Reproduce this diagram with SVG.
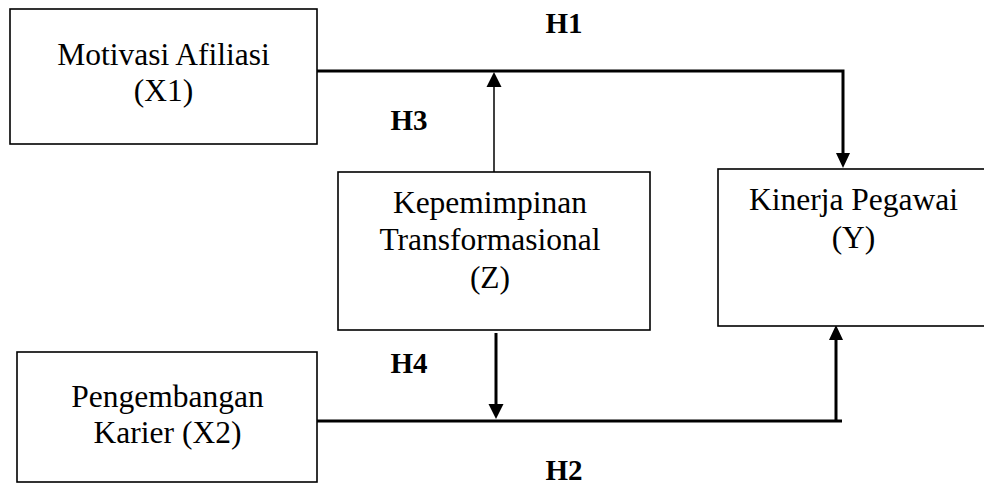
<svg xmlns="http://www.w3.org/2000/svg" width="984" height="486" viewBox="0 0 984 486">
  <style>
    .box { fill: #ffffff; stroke: #000000; stroke-width: 1.6; }
    .lbl { font-family: "Liberation Serif", "Times New Roman", serif; font-size: 31.5px; fill: #000000; text-anchor: middle; }
    .hyp { font-family: "Liberation Serif", "Times New Roman", serif; font-size: 29px; font-weight: bold; fill: #000000; text-anchor: middle; }
    .wire { fill: none; stroke: #000000; stroke-width: 3; }
    .thin { fill: none; stroke: #000000; stroke-width: 1.5; }
    .head { fill: #000000; stroke: none; }
  </style>

  <rect width="984" height="486" fill="#ffffff"/>

  <!-- connectors -->
  <g id="connectors">
    <!-- H1: X1 -> Y -->
    <polyline class="wire" points="317,71 843,71 843,154"/>
    <polygon class="head" points="836,153 850,153 843,168"/>
    <!-- H3: Z moderates the X1 path -->
    <line class="thin" x1="494" y1="172" x2="494" y2="86"/>
    <polygon class="head" points="486.5,87 501.5,87 494,72"/>
    <!-- H2: X2 -> Y -->
    <polyline class="wire" points="317,421 842,421"/>
    <line class="wire" x1="836" y1="421" x2="836" y2="340"/>
    <polygon class="head" points="829,340 843,340 836,325"/>
    <!-- H4: Z moderates the X2 path -->
    <line class="wire" x1="496" y1="333" x2="496" y2="404"/>
    <polygon class="head" points="488.5,404 503.5,404 496,419"/>
  </g>

  <!-- hypothesis labels -->
  <g id="hypotheses">
    <text class="hyp" x="564" y="33">H1</text>
    <text class="hyp" x="409" y="130">H3</text>
    <text class="hyp" x="409" y="373">H4</text>
    <text class="hyp" x="564" y="480">H2</text>
  </g>

  <g id="node-x1">
    <rect class="box" x="10" y="9" width="307" height="135"/>
    <text class="lbl" x="163.5" y="65">Motivasi Afiliasi</text>
    <text class="lbl" x="163.5" y="101">(X1)</text>
  </g>

  <g id="node-z">
    <rect class="box" x="338" y="172" width="312" height="158"/>
    <text class="lbl" x="490" y="213">Kepemimpinan</text>
    <text class="lbl" x="490" y="250">Transformasional</text>
    <text class="lbl" x="490" y="288">(Z)</text>
  </g>

  <g id="node-y">
    <rect class="box" x="718" y="169" width="280" height="157"/>
    <text class="lbl" x="853.5" y="210">Kinerja Pegawai</text>
    <text class="lbl" x="853.5" y="248">(Y)</text>
  </g>

  <g id="node-x2">
    <rect class="box" x="17" y="352" width="300" height="130"/>
    <text class="lbl" x="167.5" y="407">Pengembangan</text>
    <text class="lbl" x="167.5" y="443">Karier (X2)</text>
  </g>
</svg>
